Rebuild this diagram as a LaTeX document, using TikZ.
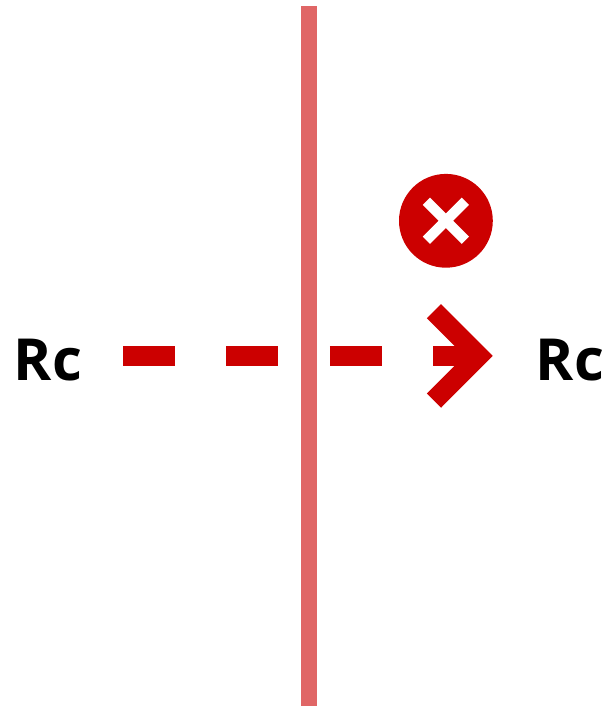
\documentclass[tikz,border=0pt]{standalone}
\usepackage{fontspec}
\setmainfont{Open Sans}
\begin{document}
\begin{tikzpicture}[x=1pt,y=-1pt,
  lab/.style={font=\bfseries\fontsize{58}{58}\selectfont,text=black,inner sep=0pt,anchor=base},
  dashline/.style={draw=cRed,line width=20pt,dash pattern=on 52pt off 51.4pt},
  headline/.style={draw=cRed,line width=20pt,line join=miter,line cap=butt},
  ]
\definecolor{cRed}{HTML}{CC0000}
\definecolor{cBar}{HTML}{E06666}
\useasboundingbox (0,0) rectangle (611,707);
\fill[cBar] (301,6) rectangle (317,706);
\node[lab] (l) at (48,380) {Rc};
\node[lab] (r) at (570,380) {Rc};
\coordinate (s) at (123,355.9);
\coordinate (e) at (478,355.9);
\draw[dashline] (s) -- (e);
\draw[headline] (434,311.2) -- (478.6,355.9) -- (434,400.6);
\fill[cRed] (445.9,220.8) circle (46.9);
\draw[white,line width=10.2pt] (426.4,201.3) -- (465.4,240.3) (465.4,201.3) -- (426.4,240.3);
\end{tikzpicture}
\end{document}
